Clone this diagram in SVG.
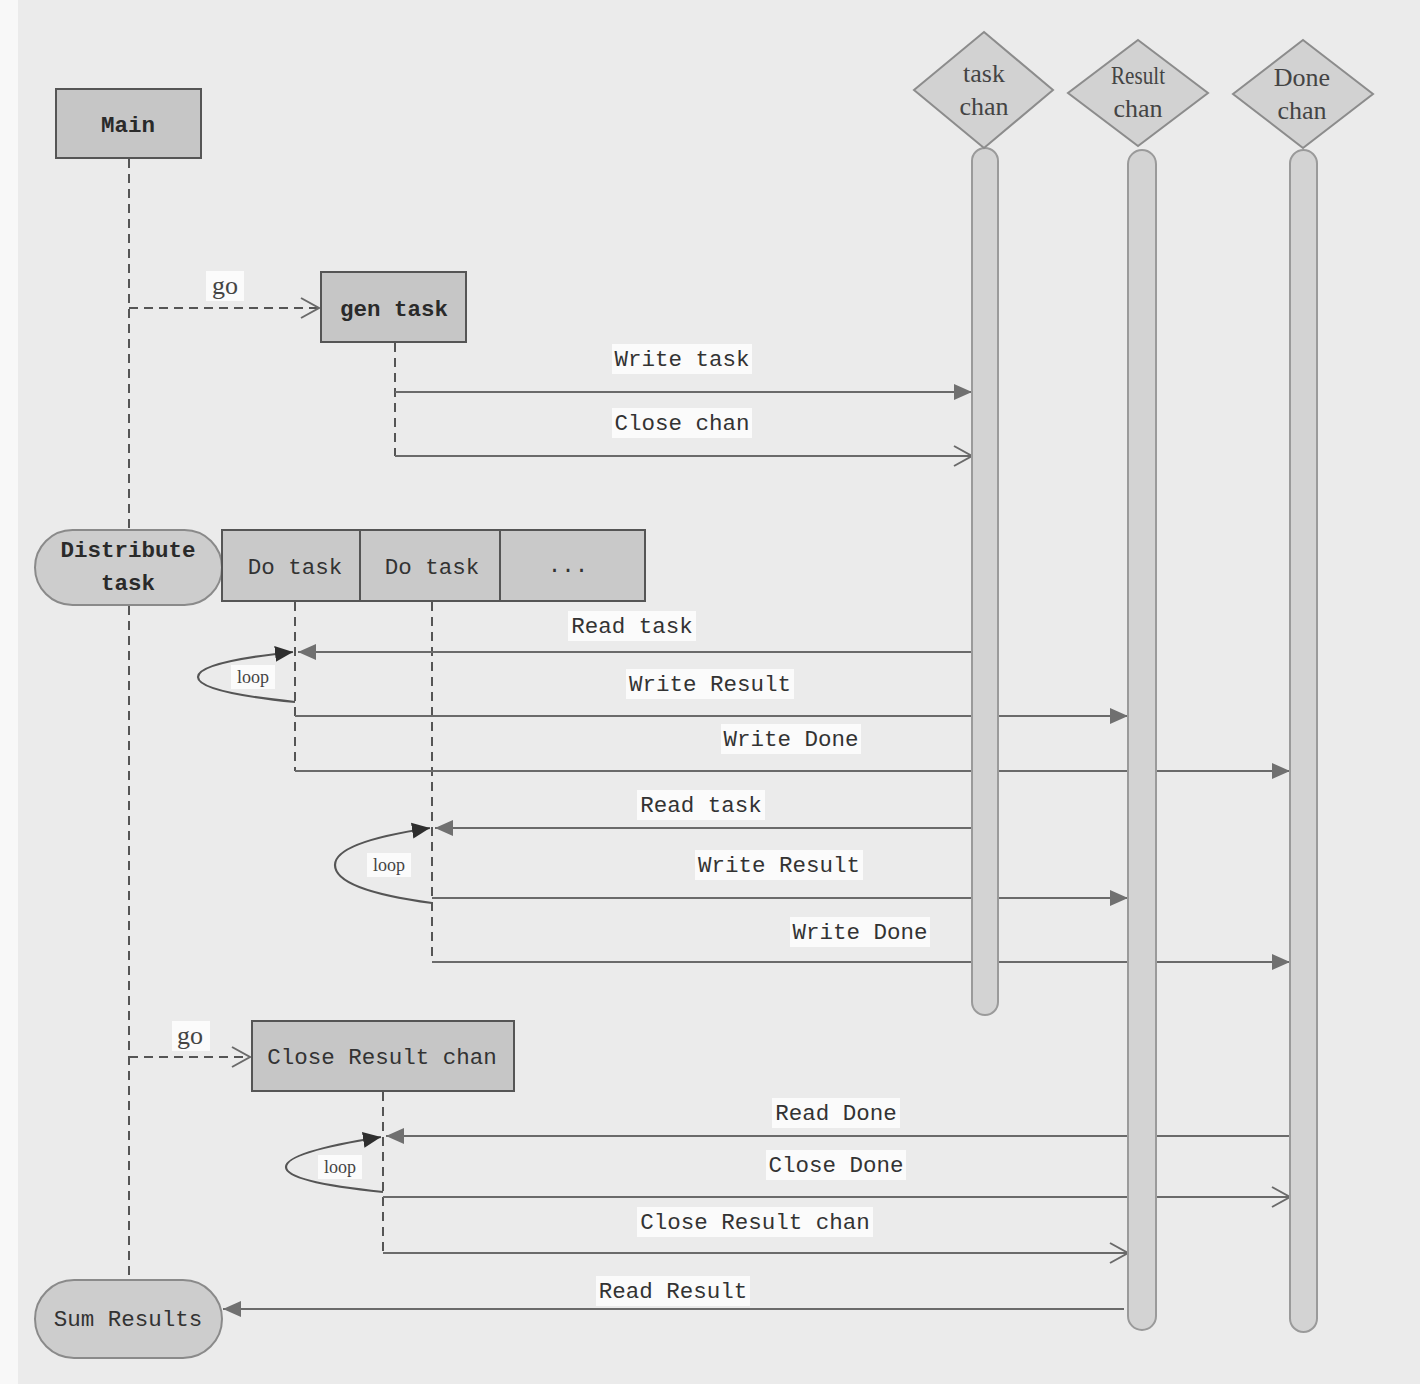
<svg xmlns="http://www.w3.org/2000/svg" width="1420" height="1384" viewBox="0 0 1420 1384">
<defs>
<style>
.mono{font-family:"Liberation Mono","DejaVu Sans Mono",monospace;font-size:22.5px;fill:#333;text-anchor:middle}
.bold{font-weight:bold;fill:#2a2a2a}
.serif{font-family:"Liberation Serif","DejaVu Serif",serif;font-size:26px;fill:#444;text-anchor:middle}
.small{font-family:"Liberation Serif","DejaVu Serif",serif;font-size:18px;fill:#444;text-anchor:middle}
.box{fill:#c6c6c6;stroke:#555;stroke-width:2}
.task{fill:#c9c9c9;stroke:#555;stroke-width:2}
.pill{fill:#cdcdcd;stroke:#8a8a8a;stroke-width:2}
.dia{fill:#d2d2d2;stroke:#8c8c8c;stroke-width:2}
.bar{fill:#d3d3d3;stroke:#9a9a9a;stroke-width:2}
.life{stroke:#555;stroke-width:2;stroke-dasharray:9 6;fill:none}
.msg{stroke:#6a6a6a;stroke-width:2.2;fill:none}
.loop{stroke:#555;stroke-width:2.2;fill:none}
.lb{fill:#fbfbfb}
</style>
<marker id="fill" markerUnits="userSpaceOnUse" markerWidth="20" markerHeight="20" refX="18" refY="9" orient="auto"><path d="M0,1 L18,9 L0,17 z" fill="#707070"/></marker>
<marker id="open" markerUnits="userSpaceOnUse" markerWidth="24" markerHeight="24" refX="20" refY="11" orient="auto"><path d="M2,1 L20,11 L2,21" fill="none" stroke="#6a6a6a" stroke-width="2"/></marker>
<marker id="dark" markerUnits="userSpaceOnUse" markerWidth="20" markerHeight="20" refX="18" refY="9" orient="auto"><path d="M0,1 L18,9 L0,17 z" fill="#2e2e2e"/></marker>
</defs>
<rect x="0" y="0" width="1420" height="1384" fill="#ebebeb"/>
<rect x="0" y="0" width="18" height="1384" fill="#f8f8f8"/>

<g id="connectors">
<!-- lifelines -->
<line class="life" x1="129" y1="159" x2="129" y2="530"/>
<line class="life" x1="129" y1="606" x2="129" y2="1280"/>
<line class="life" x1="395" y1="343" x2="395" y2="456"/>
<line class="life" x1="295" y1="602" x2="295" y2="771"/>
<line class="life" x1="432" y1="602" x2="432" y2="962"/>
<line class="life" x1="383" y1="1092" x2="383" y2="1253"/>
<!-- go -->
<line class="life" x1="129" y1="308" x2="319" y2="308" marker-end="url(#open)"/>
<line class="life" x1="129" y1="1057" x2="250" y2="1057" marker-end="url(#open)"/>
<!-- messages -->
<line class="msg" x1="395" y1="392" x2="972" y2="392" marker-end="url(#fill)"/>
<line class="msg" x1="395" y1="456" x2="972" y2="456" marker-end="url(#open)"/>
<line class="msg" x1="972" y1="652" x2="298" y2="652" marker-end="url(#fill)"/>
<line class="msg" x1="295" y1="716" x2="1128" y2="716" marker-end="url(#fill)"/>
<line class="msg" x1="295" y1="771" x2="1290" y2="771" marker-end="url(#fill)"/>
<line class="msg" x1="972" y1="828" x2="435" y2="828" marker-end="url(#fill)"/>
<line class="msg" x1="432" y1="898" x2="1128" y2="898" marker-end="url(#fill)"/>
<line class="msg" x1="432" y1="962" x2="1290" y2="962" marker-end="url(#fill)"/>
<line class="msg" x1="1290" y1="1136" x2="386" y2="1136" marker-end="url(#fill)"/>
<line class="msg" x1="383" y1="1197" x2="1290" y2="1197" marker-end="url(#open)"/>
<line class="msg" x1="383" y1="1253" x2="1128" y2="1253" marker-end="url(#open)"/>
<line class="msg" x1="1124" y1="1309" x2="223" y2="1309" marker-end="url(#fill)"/>
<!-- loops -->
<path class="loop" d="M295,702 Q198,692 198,677 Q198,662 293,652" marker-end="url(#dark)"/>
<path class="loop" d="M432,903 Q335,890 335,865 Q335,842 430,828" marker-end="url(#dark)"/>
<path class="loop" d="M383,1192 Q286,1182 286,1167 Q286,1152 381,1137" marker-end="url(#dark)"/>
</g>

<g id="labels">
<rect class="lb" x="206" y="271" width="38" height="30"/><text class="serif" x="225" y="294">go</text>
<rect class="lb" x="172" y="1021" width="38" height="30"/><text class="serif" x="190" y="1044">go</text>
<rect class="lb" x="612" y="344" width="140" height="30"/><text class="mono" x="682" y="366">Write task</text>
<rect class="lb" x="612" y="408" width="140" height="30"/><text class="mono" x="682" y="430">Close chan</text>
<rect class="lb" x="568" y="611" width="128" height="30"/><text class="mono" x="632" y="633">Read task</text>
<rect class="lb" x="626" y="669" width="168" height="30"/><text class="mono" x="710" y="691">Write Result</text>
<rect class="lb" x="721" y="724" width="140" height="30"/><text class="mono" x="791" y="746">Write Done</text>
<rect class="lb" x="637" y="790" width="128" height="30"/><text class="mono" x="701" y="812">Read task</text>
<rect class="lb" x="695" y="850" width="168" height="30"/><text class="mono" x="779" y="872">Write Result</text>
<rect class="lb" x="790" y="917" width="140" height="30"/><text class="mono" x="860" y="939">Write Done</text>
<rect class="lb" x="772" y="1098" width="128" height="30"/><text class="mono" x="836" y="1120">Read Done</text>
<rect class="lb" x="766" y="1150" width="140" height="30"/><text class="mono" x="836" y="1172">Close Done</text>
<rect class="lb" x="637" y="1207" width="236" height="30"/><text class="mono" x="755" y="1229">Close Result chan</text>
<rect class="lb" x="596" y="1276" width="154" height="30"/><text class="mono" x="673" y="1298">Read Result</text>
<rect class="lb" x="231" y="665" width="44" height="24"/><text class="small" x="253" y="683">loop</text>
<rect class="lb" x="367" y="853" width="44" height="24"/><text class="small" x="389" y="871">loop</text>
<rect class="lb" x="318" y="1155" width="44" height="24"/><text class="small" x="340" y="1173">loop</text>
</g>

<g id="task-chan">
<rect class="bar" x="972" y="148" width="26" height="867" rx="13"/>
<polygon class="dia" points="984,32 1053,90 984,148 914,90"/>
<text class="serif" x="984" y="82">task</text>
<text class="serif" x="984" y="115">chan</text>
</g>
<g id="result-chan">
<rect class="bar" x="1128" y="150" width="28" height="1180" rx="14"/>
<polygon class="dia" points="1138,40 1208,93 1138,146 1068,93"/>
<text class="serif" x="1138" y="84" textLength="54" lengthAdjust="spacingAndGlyphs">Result</text>
<text class="serif" x="1138" y="117">chan</text>
</g>
<g id="done-chan">
<rect class="bar" x="1290" y="150" width="27" height="1182" rx="13.5"/>
<polygon class="dia" points="1303,40 1373,94 1303,148 1233,94"/>
<text class="serif" x="1302" y="86">Done</text>
<text class="serif" x="1302" y="119">chan</text>
</g>

<g id="main">
<rect class="box" x="56" y="89" width="145" height="69"/>
<text class="mono bold" x="128" y="132">Main</text>
</g>
<g id="gen-task">
<rect class="box" x="321" y="272" width="145" height="70"/>
<text class="mono bold" x="394" y="316">gen task</text>
</g>
<g id="distribute-task">
<rect class="pill" x="35" y="530" width="187" height="75" rx="37.5"/>
<text class="mono bold" x="128" y="557">Distribute</text>
<text class="mono bold" x="128" y="590">task</text>
</g>
<g id="do-task-1">
<rect class="task" x="222" y="530" width="138" height="71"/>
<text class="mono" x="295" y="574">Do task</text>
</g>
<g id="do-task-2">
<rect class="task" x="360" y="530" width="140" height="71"/>
<text class="mono" x="432" y="574">Do task</text>
</g>
<g id="do-task-more">
<rect class="task" x="500" y="530" width="145" height="71"/>
<text class="mono" x="568" y="572">...</text>
</g>
<g id="close-result-chan">
<rect class="box" x="252" y="1021" width="262" height="70"/>
<text class="mono" x="382" y="1064">Close Result chan</text>
</g>
<g id="sum-results">
<rect class="pill" x="35" y="1280" width="187" height="78" rx="39"/>
<text class="mono" x="128" y="1326">Sum Results</text>
</g>
</svg>
